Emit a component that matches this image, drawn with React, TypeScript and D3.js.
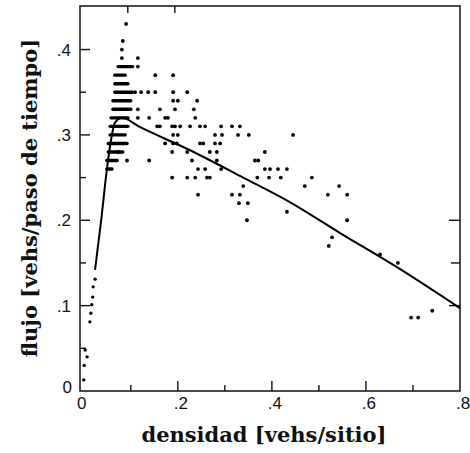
import React from 'react';
import * as d3 from 'd3';

// fitted curve (fundamental diagram): density, flow
const curveRho = [0.024, 0.037, 0.049, 0.058, 0.066, 0.081, 0.120, 0.226, 0.339, 0.439, 0.545, 0.666, 0.800];
const curveQ = [0.142, 0.200, 0.259, 0.294, 0.314, 0.320, 0.309, 0.282, 0.250, 0.221, 0.185, 0.145, 0.097];

// low-density free-flow measurements
const freeRho = [0.024, 0.020, 0.019, 0.017, 0.015, 0.013, 0.003, 0.007, 0.001, 0.0];
const freeQ = [0.131, 0.122, 0.110, 0.101, 0.091, 0.081, 0.048, 0.040, 0.030, 0.013];

// dense rows of measurements near the maximum (flow, density from, density to)
const barQ = [0.38, 0.37, 0.36, 0.35, 0.34, 0.33, 0.32, 0.31, 0.30, 0.29, 0.28, 0.27, 0.26];
const barFrom = [0.073, 0.066, 0.066, 0.066, 0.062, 0.062, 0.058, 0.056, 0.056, 0.052, 0.052, 0.049, 0.049];
const barTo = [0.104, 0.088, 0.094, 0.103, 0.100, 0.100, 0.094, 0.094, 0.088, 0.092, 0.083, 0.071, 0.060];

// scattered measurements, grouped by flow level
const rowLevels = [0.43, 0.41, 0.40, 0.39, 0.38, 0.37, 0.35, 0.34, 0.33, 0.32, 0.31, 0.30, 0.29, 0.28, 0.27, 0.26, 0.25, 0.24, 0.23, 0.22, 0.21, 0.20, 0.18, 0.17, 0.16, 0.15, 0.094, 0.086];
const rowDensities: number[][] = [
  [0.090],
  [0.083],
  [0.081],
  [0.081, 0.115],
  [0.115],
  [0.152, 0.190],
  [0.109, 0.122, 0.137, 0.152, 0.190, 0.220],
  [0.190, 0.200, 0.241],
  [0.115, 0.162, 0.194, 0.234],
  [0.115, 0.139, 0.173, 0.179, 0.237],
  [0.156, 0.162, 0.188, 0.194, 0.205, 0.226, 0.247, 0.258, 0.292, 0.315, 0.332],
  [0.190, 0.200, 0.279, 0.294, 0.328, 0.351, 0.445],
  [0.173, 0.190, 0.198, 0.247, 0.254, 0.279, 0.290],
  [0.073, 0.188, 0.220, 0.268, 0.283, 0.385],
  [0.092, 0.139, 0.230, 0.283, 0.364, 0.371],
  [0.243, 0.258, 0.292, 0.385, 0.396, 0.413, 0.432],
  [0.188, 0.220, 0.237, 0.262, 0.268, 0.369, 0.394, 0.419, 0.485],
  [0.339, 0.470, 0.543],
  [0.243, 0.315, 0.332, 0.519, 0.560],
  [0.330, 0.349],
  [0.432],
  [0.347, 0.560],
  [0.528],
  [0.521],
  [0.630],
  [0.668],
  [0.741],
  [0.696, 0.711],
];

const xTickMajor = [0.2, 0.4, 0.6];
const xTickMinor = [0.1, 0.3, 0.5, 0.7];
const xTickLabels = ['0', '.2', '.4', '.6', '.8'];
const xLabelValues = [0, 0.2, 0.4, 0.6, 0.8];
const yTickMajor = [0.1, 0.2, 0.3, 0.4];
const yTickMinor = [0.05, 0.15, 0.25, 0.35];
const yTickLabels = ['0', '.1', '.2', '.3', '.4'];
const yLabelValues = [0, 0.1, 0.2, 0.3, 0.4];
const topTicks = [0.1, 0.2];
const rightTicksMajor = [0.1, 0.2];
const rightTicksMinor = [0.15];

const W = 470;
const H = 453;
const L = 80, R = 460, T = 6, B = 391;

export default function App() {
  const x = d3.scaleLinear().domain([-0.008, 0.8]).range([L, R]);
  const y = d3.scaleLinear().domain([0, 0.451]).range([B, T]);

  const line = d3.line<number>()
    .x((_, i) => x(curveRho[i]))
    .y((_, i) => y(curveQ[i]))
    .curve(d3.curveMonotoneX);

  const scatter: [number, number][] = [];
  rowLevels.forEach((q, i) => rowDensities[i].forEach((r) => scatter.push([r, q])));

  const tickColor = '#111';
  const numFont = '"Liberation Sans", Arial, sans-serif';
  const titleFont = '"DejaVu Serif", serif';

  return (
    <svg width={W} height={H} style={{ position: 'absolute', left: 0, top: 0, background: '#fff' }}>
      <rect x={0} y={0} width={W} height={H} fill="#fff" />
      {/* frame */}
      <rect x={L} y={T} width={R - L} height={B - T} fill="none" stroke="#111" strokeWidth={1.5} />

      {/* bottom ticks */}
      {xTickMajor.map((v) => (
        <line key={'xM' + v} x1={x(v)} x2={x(v)} y1={B} y2={B - 10} stroke={tickColor} strokeWidth={1.4} />
      ))}
      {xTickMinor.map((v) => (
        <line key={'xm' + v} x1={x(v)} x2={x(v)} y1={B} y2={B - 6} stroke={tickColor} strokeWidth={1.4} />
      ))}
      {topTicks.map((v) => (
        <line key={'xt' + v} x1={x(v) - 3} x2={x(v) - 3} y1={T} y2={T + 7} stroke={tickColor} strokeWidth={1.4} />
      ))}
      {/* left ticks */}
      {yTickMajor.map((v) => (
        <line key={'yM' + v} x1={L} x2={L + 10} y1={y(v)} y2={y(v)} stroke={tickColor} strokeWidth={1.4} />
      ))}
      {yTickMinor.map((v) => (
        <line key={'ym' + v} x1={L} x2={L + 6} y1={y(v)} y2={y(v)} stroke={tickColor} strokeWidth={1.4} />
      ))}
      {/* right ticks */}
      {rightTicksMajor.map((v) => (
        <line key={'rM' + v} x1={R} x2={R - 11} y1={y(v)} y2={y(v)} stroke={tickColor} strokeWidth={1.4} />
      ))}
      {rightTicksMinor.map((v) => (
        <line key={'rm' + v} x1={R} x2={R - 9} y1={y(v)} y2={y(v)} stroke={tickColor} strokeWidth={1.4} />
      ))}

      {/* tick labels */}
      {xLabelValues.map((v, i) => (
        <text key={'xl' + v} x={v === 0 ? x(v) - 2 : x(v) + 3} y={409} textAnchor="middle"
          fontFamily={numFont} fontSize={17} fill="#111">{xTickLabels[i]}</text>
      ))}
      {yLabelValues.map((v, i) => (
        <text key={'yl' + v} x={v === 0 ? 72 : 71} y={v === 0 ? 393 : y(v) + 6} textAnchor="end"
          fontFamily={numFont} fontSize={17} fill="#111">{yTickLabels[i]}</text>
      ))}

      {/* dense rows */}
      {barQ.map((q, i) => (
        <line key={'b' + i} x1={x(barFrom[i])} x2={x(barTo[i])} y1={y(q)} y2={y(q)}
          stroke="#000" strokeWidth={3.4} strokeLinecap="round" />
      ))}

      {/* scatter */}
      {scatter.map(([r, q], i) => (
        <circle key={'s' + i} cx={x(r)} cy={y(q)} r={1.9} fill="#000" />
      ))}
      {freeRho.map((r, i) => (
        <circle key={'f' + i} cx={x(r)} cy={y(freeQ[i])} r={1.7} fill="#000" />
      ))}

      {/* fitted curve */}
      <path d={line(curveRho) || ''} fill="none" stroke="#000" strokeWidth={2} strokeLinejoin="round" />

      {/* axis titles */}
      <text x={264} y={442} textAnchor="middle" fontFamily={titleFont} fontWeight="bold" fontSize={21} fill="#111">
        densidad [vehs/sitio]
      </text>
      <text transform={`translate(37, 198) rotate(-90)`} textAnchor="middle" fontFamily={titleFont}
        fontWeight="bold" fontSize={21} fill="#111">
        flujo [vehs/paso de tiempo]
      </text>
    </svg>
  );
}
